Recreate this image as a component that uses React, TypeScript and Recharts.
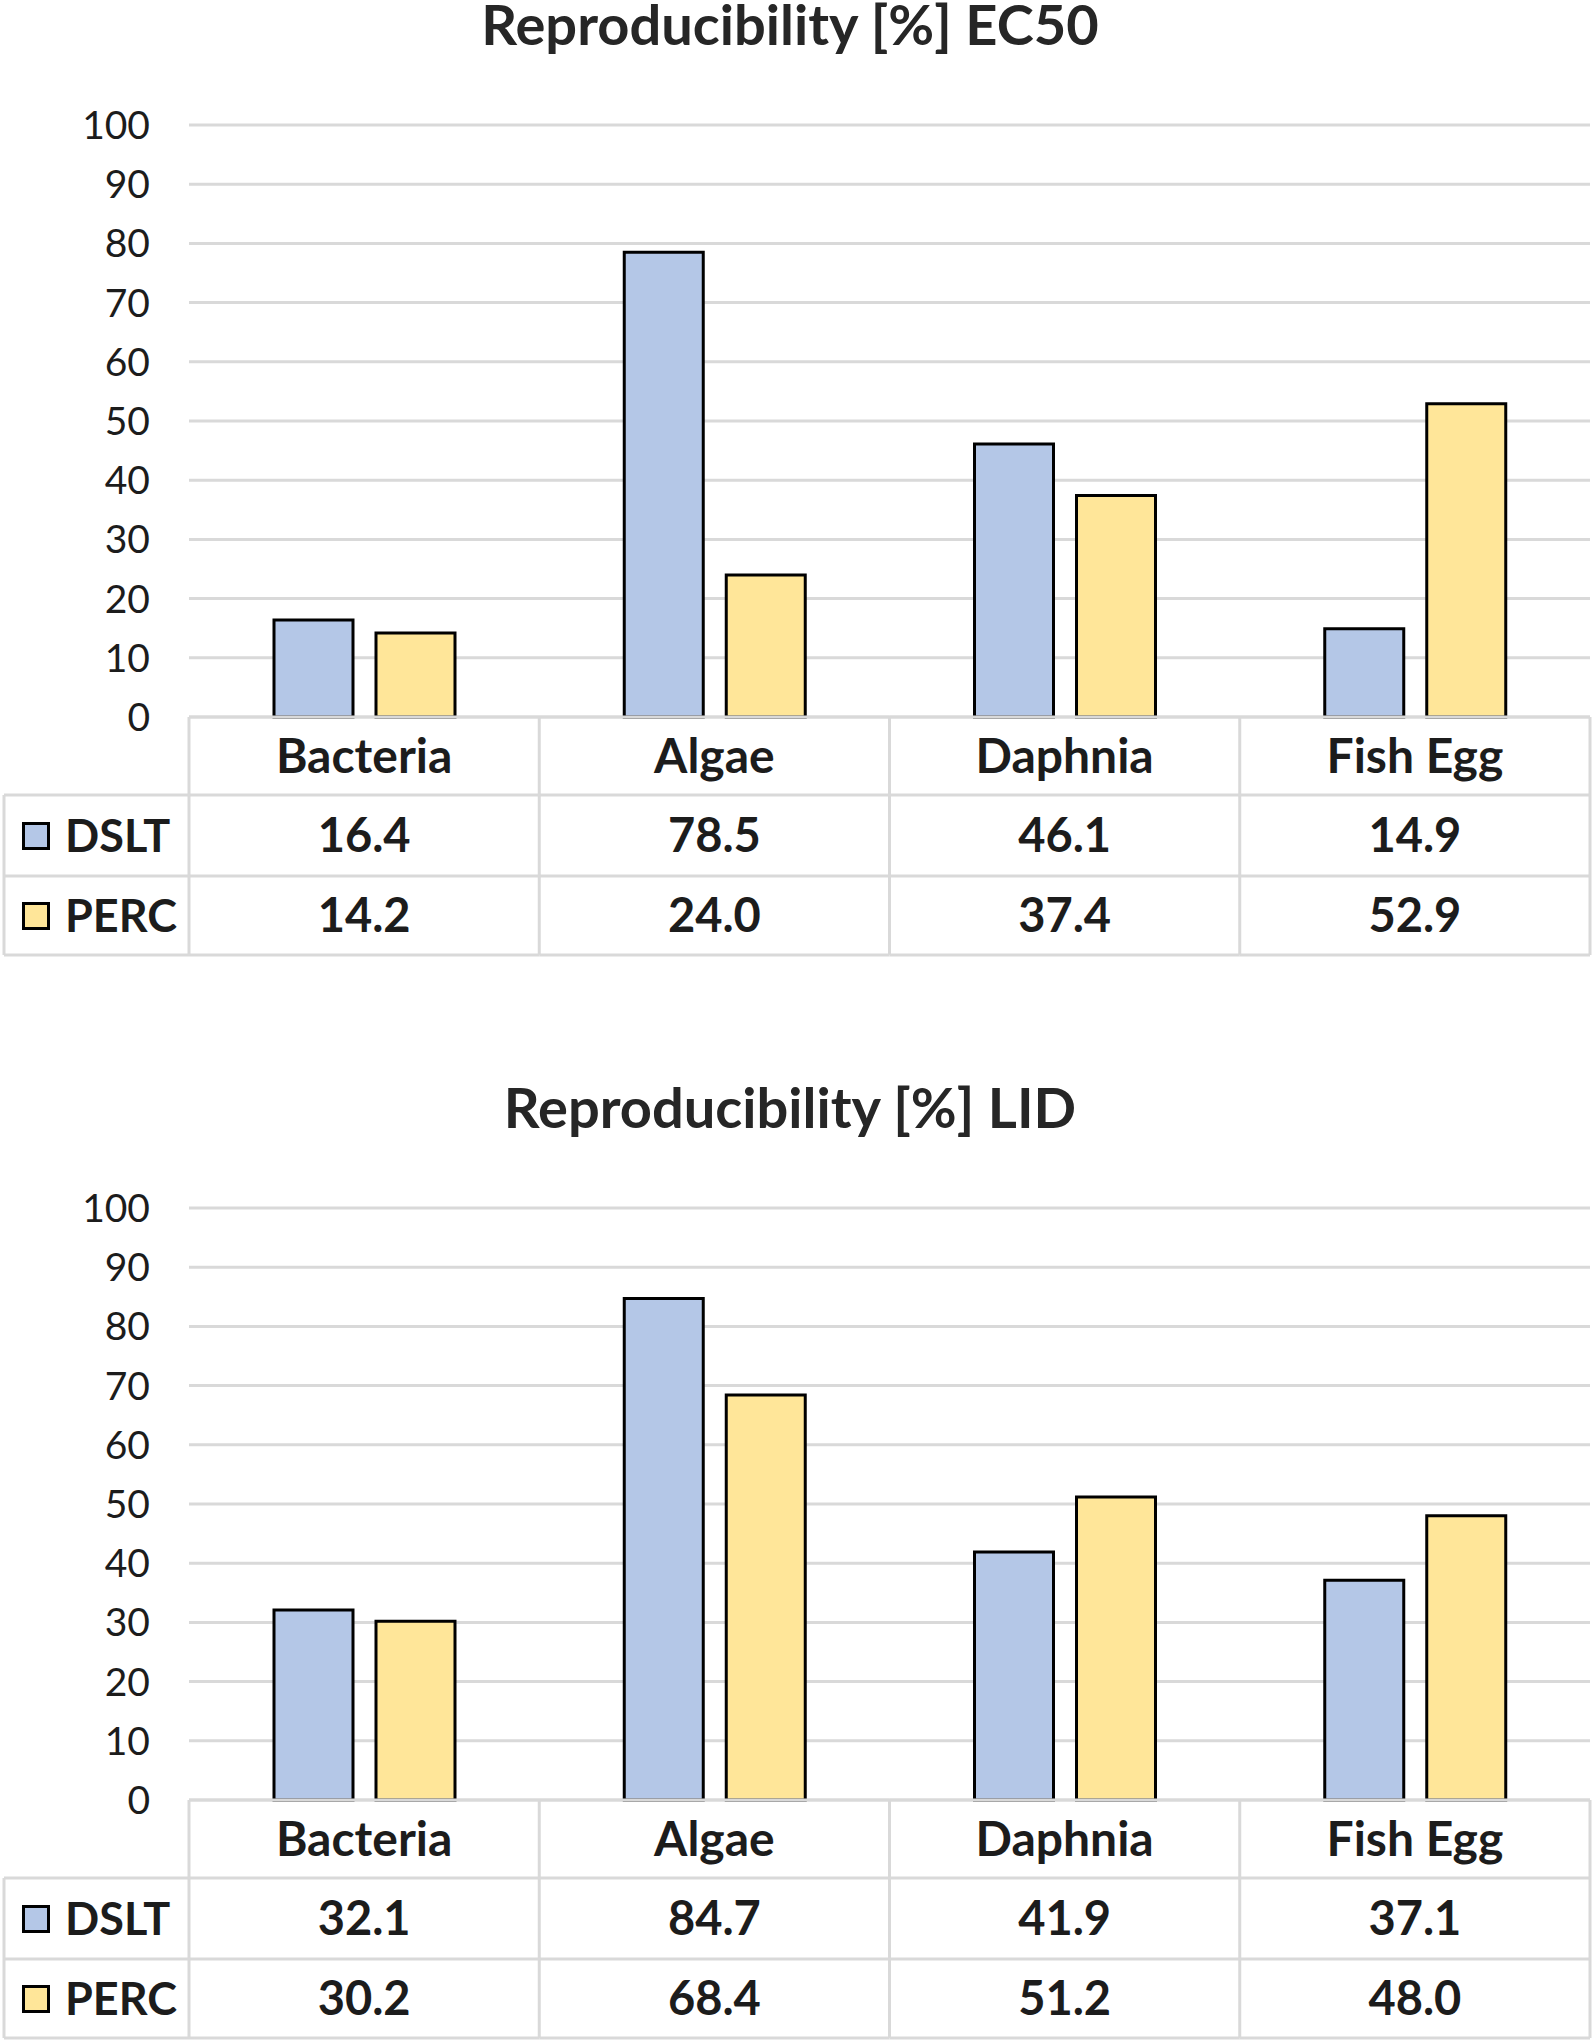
import React from "react";
import { Bar, BarChart, CartesianGrid, Legend, XAxis, YAxis } from "recharts";

const categories = ["Bacteria", "Algae", "Daphnia", "Fish Egg"];
const seriesNames = ["DSLT", "PERC"];
const seriesColors = ["#b4c7e7", "#ffe699"];
const yTicks = [0, 10, 20, 30, 40, 50, 60, 70, 80, 90, 100];

const ec50Dslt = [16.4, 78.5, 46.1, 14.9];
const ec50Perc = [14.2, 24.0, 37.4, 52.9];
const lidDslt = [32.1, 84.7, 41.9, 37.1];
const lidPerc = [30.2, 68.4, 51.2, 48.0];

const W = 1594;
const H = 961;
const PLOT_LEFT = 189;
const PLOT_RIGHT = 1590;
const PLOT_TOP = 125;
const PLOT_BOTTOM = 717;
const ROW1 = 795;
const ROW2 = 876;
const ROW3 = 955;
const TABLE_LEFT = 4;
const BAND = (PLOT_RIGHT - PLOT_LEFT) / categories.length;
const FONT = "Lato, 'Open Sans', sans-serif";
const GRID = "#d9d9d9";
const TEXT = "#1c1c1c";

const TITLE_FS = 56;
const CAT_FS = 48;
const VAL_FS = 47;

// one column of the data table under the plot, drawn as the x axis tick
const TableTick = (props: any) => {
  const { x, payload, dslt, perc } = props;
  const idx = payload.index;
  const left = x - BAND / 2;
  const right = x + BAND / 2;
  const last = idx === categories.length - 1;
  const lineStart = idx === 0 ? TABLE_LEFT : left;
  return (
    <g>
      <line x1={left} x2={right} y1={PLOT_BOTTOM} y2={PLOT_BOTTOM} stroke={GRID} strokeWidth={3} />
      <line x1={lineStart} x2={right} y1={ROW1} y2={ROW1} stroke={GRID} strokeWidth={3} />
      <line x1={lineStart} x2={right} y1={ROW2} y2={ROW2} stroke={GRID} strokeWidth={3} />
      <line x1={lineStart} x2={right} y1={ROW3} y2={ROW3} stroke={GRID} strokeWidth={3} />
      <line x1={left} x2={left} y1={PLOT_BOTTOM} y2={ROW3} stroke={GRID} strokeWidth={3} />
      {idx === 0 && (
        <line x1={TABLE_LEFT} x2={TABLE_LEFT} y1={ROW1} y2={ROW3} stroke={GRID} strokeWidth={3} />
      )}
      {last && <line x1={right} x2={right} y1={PLOT_BOTTOM} y2={ROW3} stroke={GRID} strokeWidth={3} />}
      <text
        x={x}
        y={(PLOT_BOTTOM + ROW1) / 2 + CAT_FS * 0.36}
        textAnchor="middle"
        fontFamily={FONT}
        fontWeight={700}
        fontSize={CAT_FS}
        fill={TEXT}
      >
        {payload.value}
      </text>
      <text
        x={x}
        y={(ROW1 + ROW2) / 2 + VAL_FS * 0.36}
        textAnchor="middle"
        fontFamily={FONT}
        fontWeight={700}
        fontSize={VAL_FS}
        fill={TEXT}
      >
        {dslt[idx].toFixed(1)}
      </text>
      <text
        x={x}
        y={(ROW2 + ROW3) / 2 + VAL_FS * 0.36}
        textAnchor="middle"
        fontFamily={FONT}
        fontWeight={700}
        fontSize={VAL_FS}
        fill={TEXT}
      >
        {perc[idx].toFixed(1)}
      </text>
    </g>
  );
};

const YTick = (props: any) => {
  const { y, payload } = props;
  return (
    <text x={150} y={y + 39 * 0.36} textAnchor="end" fontFamily={FONT} fontSize={39} fill={TEXT}>
      {payload.value}
    </text>
  );
};

// legend cells on the left of the table rows
const TableLegend = (props: any) => {
  const { payload } = props;
  return (
    <div style={{ width: PLOT_LEFT - TABLE_LEFT, fontFamily: FONT }}>
      {(payload || []).map((p: any, i: number) => (
        <div
          key={p.value}
          style={{
            height: i === 0 ? ROW2 - ROW1 : ROW3 - ROW2,
            display: "flex",
            alignItems: "center",
          }}
        >
          <div
            style={{
              width: 22,
              height: 22,
              marginLeft: 18,
              background: p.color,
              border: "3px solid #000",
            }}
          />
          <span
            style={{
              marginLeft: 15,
              fontSize: VAL_FS - 2,
              fontWeight: 700,
              color: TEXT,
              lineHeight: 1,
            }}
          >
            {p.value}
          </span>
        </div>
      ))}
    </div>
  );
};

const ChartBlock = ({ top, title, dslt, perc }: any) => {
  const data = categories.map((c, i) => ({ name: c, dslt: dslt[i], perc: perc[i] }));
  return (
    <div style={{ position: "absolute", left: 0, top, width: W, height: H }}>
      <svg
        width={W}
        height={70}
        style={{ position: "absolute", left: 0, top: 0, zIndex: 1, overflow: "visible" }}
      >
        <text
          x={790}
          y={45}
          textAnchor="middle"
          fontFamily={FONT}
          fontWeight={700}
          fontSize={TITLE_FS}
          fill="#262626"
        >
          {title}
        </text>
      </svg>
      <BarChart
        width={W}
        height={H}
        data={data}
        margin={{ top: PLOT_TOP, right: W - PLOT_RIGHT, bottom: H - ROW3, left: 0 }}
        barSize={79}
        barGap={23}
      >
        <CartesianGrid vertical={false} stroke={GRID} strokeWidth={3} />
        <YAxis
          width={PLOT_LEFT}
          domain={[0, 100]}
          ticks={yTicks}
          axisLine={false}
          tickLine={false}
          tick={<YTick />}
        />
        <Bar
          dataKey="dslt"
          name={seriesNames[0]}
          fill={seriesColors[0]}
          stroke="#000"
          strokeWidth={3}
          isAnimationActive={false}
        />
        <Bar
          dataKey="perc"
          name={seriesNames[1]}
          fill={seriesColors[1]}
          stroke="#000"
          strokeWidth={3}
          isAnimationActive={false}
        />
        <XAxis
          dataKey="name"
          height={ROW3 - PLOT_BOTTOM}
          axisLine={false}
          tickLine={false}
          interval={0}
          tick={<TableTick dslt={dslt} perc={perc} />}
        />
        <Legend
          layout="vertical"
          align="center"
          verticalAlign="middle"
          content={<TableLegend />}
          wrapperStyle={{ left: TABLE_LEFT, top: ROW1, width: PLOT_LEFT - TABLE_LEFT }}
        />
      </BarChart>
    </div>
  );
};

export default function App() {
  return (
    <div style={{ position: "relative", width: W, height: 2044, background: "#fff" }}>
      <style>{`body{margin:0;background:#fff}`}</style>
      <ChartBlock top={0} title="Reproducibility [%] EC50" dslt={ec50Dslt} perc={ec50Perc} />
      <ChartBlock top={1083} title="Reproducibility [%] LID" dslt={lidDslt} perc={lidPerc} />
    </div>
  );
}
